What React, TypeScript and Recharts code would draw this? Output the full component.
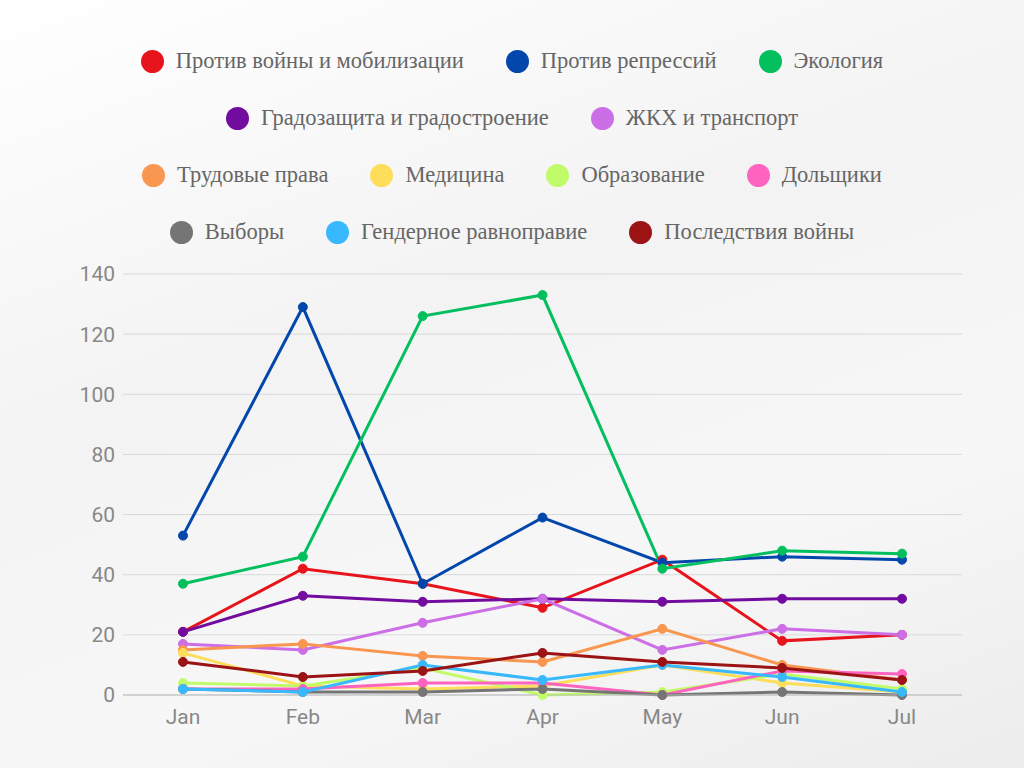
import React from "react";
import { LineChart, Line, XAxis, YAxis, CartesianGrid } from "recharts";

const months = ["Jan", "Feb", "Mar", "Apr", "May", "Jun", "Jul"];

const war = [21, 42, 37, 29, 45, 18, 20];
const repression = [53, 129, 37, 59, 44, 46, 45];
const ecology = [37, 46, 126, 133, 42, 48, 47];
const city = [21, 33, 31, 32, 31, 32, 32];
const housing = [17, 15, 24, 32, 15, 22, 20];
const labor = [15, 17, 13, 11, 22, 10, 5];
const medicine = [14, 3, 2, 3, 10, 4, 1];
const education = [4, 3, 9, 0, 1, 7, 2];
const shareholders = [2, 2, 4, 4, 0, 8, 7];
const elections = [2, 1, 1, 2, 0, 1, 0];
const gender = [2, 1, 10, 5, 10, 6, 1];
const aftermath = [11, 6, 8, 14, 11, 9, 5];

const series = [
  { key: "war", name: "Против войны и мобилизации", color: "#e8141b", values: war },
  { key: "rep", name: "Против репрессий", color: "#0347ac", values: repression },
  { key: "eco", name: "Экология", color: "#03bf5e", values: ecology },
  { key: "city", name: "Градозащита и градостроение", color: "#720c9e", values: city },
  { key: "house", name: "ЖКХ и транспорт", color: "#cc6fe6", values: housing },
  { key: "labor", name: "Трудовые права", color: "#f99650", values: labor },
  { key: "med", name: "Медицина", color: "#fedd5a", values: medicine },
  { key: "edu", name: "Образование", color: "#c2fb6a", values: education },
  { key: "share", name: "Дольщики", color: "#fe63c0", values: shareholders },
  { key: "elect", name: "Выборы", color: "#757575", values: elections },
  { key: "gender", name: "Гендерное равноправие", color: "#38b8fd", values: gender },
  { key: "after", name: "Последствия войны", color: "#9b1315", values: aftermath },
];

const legendRows = [[0, 1, 2], [3, 4], [5, 6, 7, 8], [9, 10, 11]];

const data = months.map((m, i) => {
  const row: Record<string, string | number> = { month: m };
  series.forEach((s) => (row[s.key] = s.values[i]));
  return row;
});

export default function App() {
  return (
    <div
      style={{
        position: "absolute",
        left: 0,
        top: 0,
        width: 1024,
        height: 768,
        background: "linear-gradient(160deg, #ffffff 0%, #f3f3f3 40%, #f7f7f7 70%, #ececec 100%)",
      }}
    >
      <div style={{ position: "absolute", top: 48, left: 0, width: 1024 }}>
        {legendRows.map((row, ri) => (
          <div
            key={ri}
            style={{ display: "flex", justifyContent: "center", height: 57, alignItems: "flex-start" }}
          >
            {row.map((idx) => (
              <div
                key={idx}
                style={{
                  display: "flex",
                  alignItems: "center",
                  margin: "0 21px",
                  fontFamily: "'Liberation Serif', serif",
                  fontSize: 22.5,
                  color: "#666",
                }}
              >
                <span
                  style={{
                    width: 23,
                    height: 23,
                    borderRadius: "50%",
                    background: series[idx].color,
                    marginRight: 12,
                    display: "inline-block",
                  }}
                />
                {series[idx].name}
              </div>
            ))}
          </div>
        ))}
      </div>
      <div style={{ position: "absolute", left: 0, top: 0 }}>
        <LineChart
          width={1024}
          height={768}
          data={data}
          margin={{ top: 274, left: 63, right: 62, bottom: 43 }}
        >
          <CartesianGrid vertical={false} stroke="#d9d9d9" strokeWidth={1} />
          <XAxis
            dataKey="month"
            padding={{ left: 60, right: 60 }}
            tickLine={false}
            axisLine={{ stroke: "#bbb" }}
            height={30}
            tick={{ fill: "#888", fontSize: 21, fontFamily: "Roboto, sans-serif" }}
            tickMargin={8}
          />
          <YAxis
            width={60}
            domain={[0, 140]}
            ticks={[0, 20, 40, 60, 80, 100, 120, 140]}
            tickLine={false}
            axisLine={false}
            tick={{ fill: "#888", fontSize: 21, fontFamily: "Roboto, sans-serif" }}
          />
          {series.map((s) => (
            <Line
              key={s.key}
              dataKey={s.key}
              name={s.name}
              stroke={s.color}
              strokeWidth={3}
              dot={{ r: 4.5, fill: s.color, stroke: s.color, strokeWidth: 1 }}
              isAnimationActive={false}
            />
          ))}
        </LineChart>
      </div>
    </div>
  );
}
